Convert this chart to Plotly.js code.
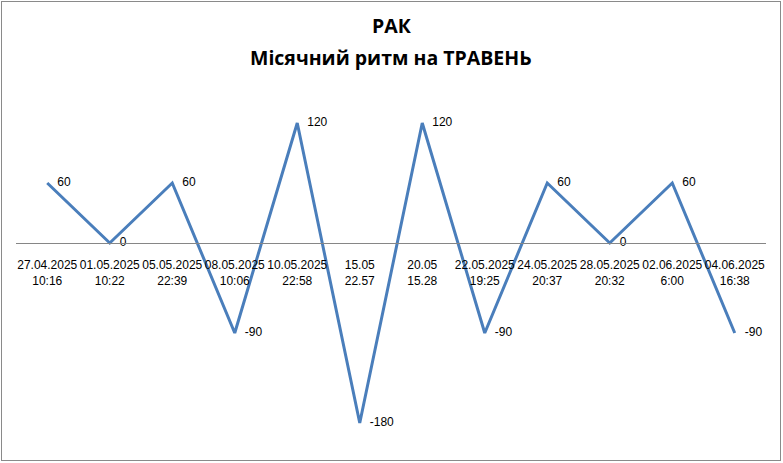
<!DOCTYPE html>
<html>
<head>
<meta charset="utf-8">
<script src="https://cdn.plot.ly/plotly-3.0.1.min.js"></script>
<style>
  body { margin: 0; background: #fff; }
  #chart { width: 783px; height: 463px; position: absolute; left: 0; top: 0; }
  #frame { position: absolute; left: 1px; top: 1px; width: 780px; height: 460px;
           box-sizing: border-box; border: 1px solid #8a8a8a; pointer-events: none; }
</style>
</head>
<body>
<div id="chart"></div>
<div id="frame"></div>
<script>
// chart data
const dates = [
    "27.04.2025<br>10:16", "01.05.2025<br>10:22", "05.05.2025<br>22:39",
    "08.05.2025<br>10:06", "10.05.2025<br>22:58", "15.05<br>22.57",
    "20.05<br>15.28", "22.05.2025<br>19:25", "24.05.2025<br>20:37",
    "28.05.2025<br>20:32", "02.06.2025<br>6:00", "04.06.2025<br>16:38"
];
const rhythm = [60, 0, 60, -90, 120, -180, 120, -90, 60, 0, 60, -90];

const titleMain = "РАК";
const titleSub = "Місячний ритм на ТРАВЕНЬ";

const yMin = -200, yMax = 150;
const labelFont = { family: "Liberation Sans, Arial, sans-serif", size: 12, color: "#000" };

Plotly.newPlot("chart", [{
    x: dates,
    y: rhythm,
    type: "scatter",
    mode: "lines+text",
    // small gap between the point and its label, like Excel's "right" position
    text: rhythm.map(v => "\u00a0\u00a0\u00a0" + v),
    textposition: "middle right",
    textfont: labelFont,
    line: { color: "#4a7ebb", width: 3 },
    hoverinfo: "none",
    cliponaxis: false
}], {
    width: 783,
    height: 463,
    margin: { l: 16, r: 17, t: 93, b: 20 },
    paper_bgcolor: "#fff",
    plot_bgcolor: "#fff",
    showlegend: false,
    title: {
        text: "<b>" + titleMain + "</b>",
        font: { family: "Open Sans, sans-serif", size: 19.5, color: "#000" },
        x: 0.5, xanchor: "center",
        y: 1 - 26 / 463, yanchor: "middle", yref: "container"
    },
    annotations: [{
        text: "<b>" + titleSub + "</b>",
        font: { family: "Open Sans, sans-serif", size: 19.5, color: "#000" },
        xref: "paper", yref: "paper",
        x: 0.5, xanchor: "center",
        y: (443 - 57) / 350, yanchor: "middle",
        showarrow: false
    }],
    xaxis: {
        type: "category",
        range: [-0.5, dates.length - 0.5],
        anchor: "free",
        position: (0 - yMin) / (yMax - yMin),
        showline: true,
        linecolor: "#868686",
        linewidth: 1,
        showgrid: false,
        zeroline: false,
        ticks: "",
        tickangle: 0,
        ticklabelstandoff: 11,
        tickfont: labelFont,
        fixedrange: true
    },
    yaxis: {
        range: [yMin, yMax],
        visible: false,
        fixedrange: true
    }
}, { displayModeBar: false, staticPlot: true });
</script>
</body>
</html>
